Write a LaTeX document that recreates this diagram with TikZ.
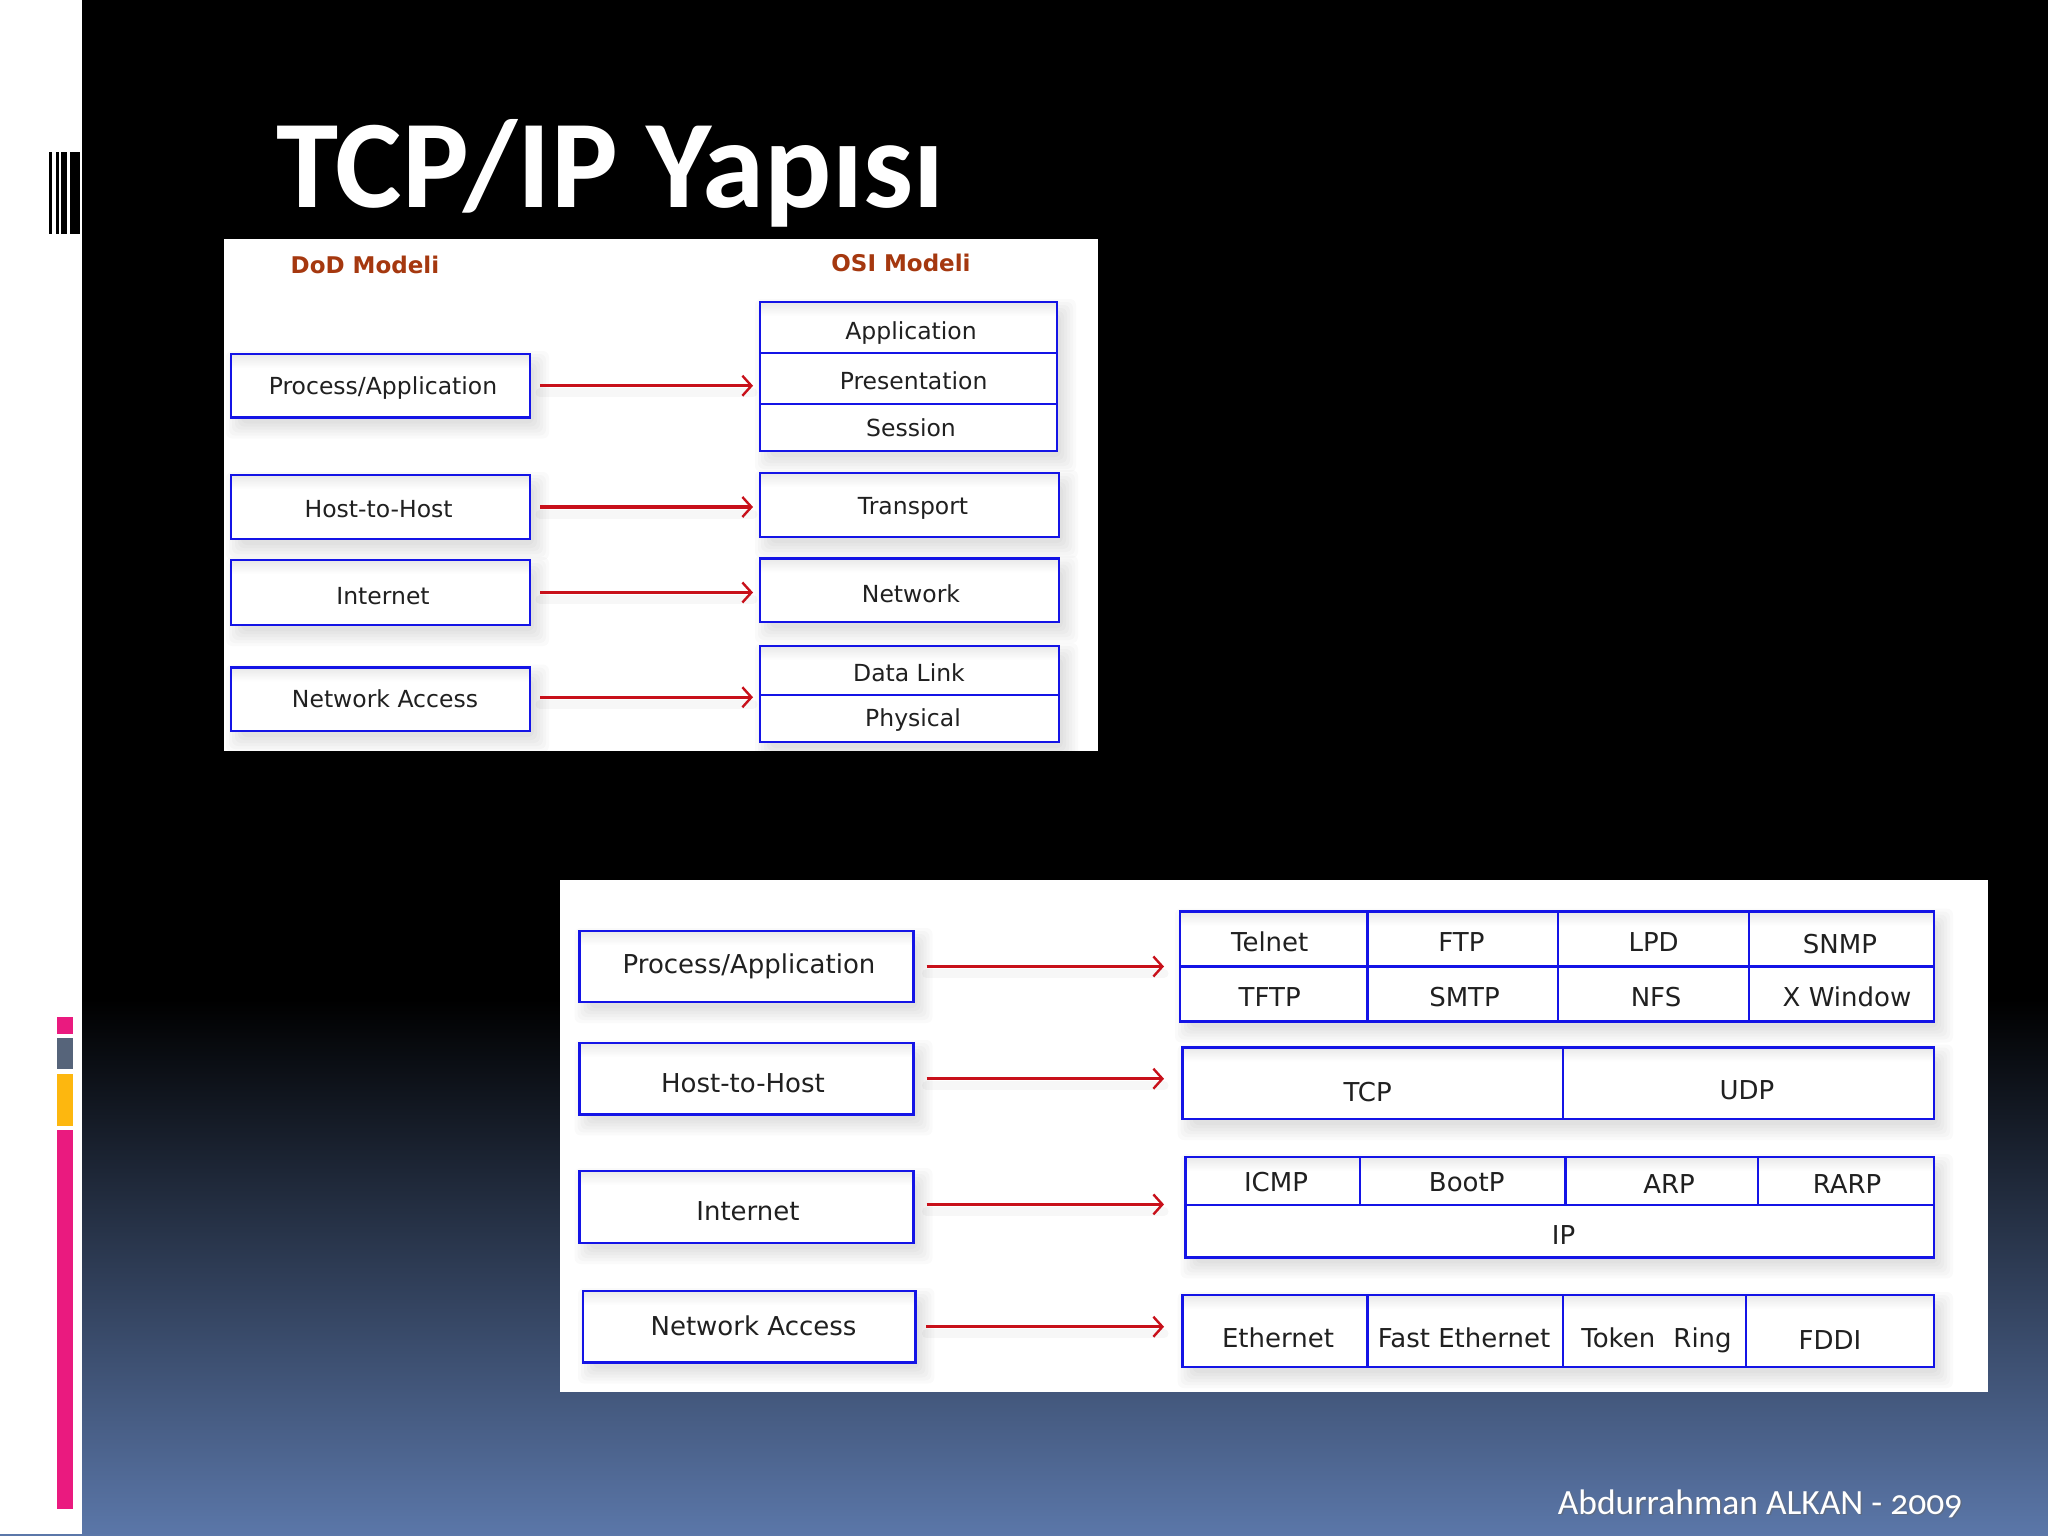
\documentclass[tikz,border=0pt]{standalone}
\usepackage{fontspec}
\usetikzlibrary{arrows.meta}
\setmainfont{DejaVu Sans}
\newfontfamily\titlefont{Carlito}
\newfontfamily\footfont[Numbers=OldStyle]{Carlito}
\definecolor{boxblue}{HTML}{1414E6}
\definecolor{arrred}{HTML}{C8101A}
\definecolor{headred}{HTML}{A5380F}
\definecolor{slidetop}{HTML}{000000}
\definecolor{slidebot}{HTML}{5B77A9}
\definecolor{labelgrey}{HTML}{202020}
\definecolor{accpink}{HTML}{EA1A7F}
\definecolor{accgrey}{HTML}{56647A}
\definecolor{accgold}{HTML}{FDB70F}
\tikzset{
  cellbox/.style={draw=boxblue,line width=2.6pt,fill=none,inner sep=0pt,outer sep=0pt,rectangle},
  lblA/.style={font=\fontsize{23.5}{26}\selectfont,text=labelgrey,inner sep=0pt},
  lblB/.style={font=\fontsize{26}{30}\selectfont,text=labelgrey,inner sep=0pt},
  headlbl/.style={font=\fontsize{23}{26}\bfseries\selectfont,text=headred,inner sep=0pt},
  redarrow/.style={draw=arrred,line width=3.2pt,-{Straight Barb[length=9pt,width=20pt,line width=2.4pt]}},
  arrowshadow/.style={draw=black,opacity=.03,line cap=round},
  panel/.style={fill=white,draw=none,inner sep=0pt,outer sep=0pt},
  accent/.style={draw=none}
}
% soft shadow and top tint of a group of cells
\newcommand{\softshadow}[4]{%
  \foreach \d in {12,9,6,3,0,-3}{
    \fill[black,opacity=.02,rounded corners=6pt] ({#1+7-\d},{#2+9-\d}) rectangle ({#3+7+\d},{#4+9+\d});
  }
  \fill[white] (#1,#2) rectangle (#3,#4);
  \shade[top color=black!9,bottom color=white] (#1,#2) rectangle (#3,{#2+14});
}
\newcommand{\cellnode}[5]{%
  \node[cellbox,minimum width={(#4)-(#2)},minimum height={(#5)-(#3)}] (#1) at ({((#2)+(#4))/2},{((#3)+(#5))/2}) {};
}
\newcommand{\linkarrow}[5]{% from, to, start gap, end gap, raise
  \draw[arrowshadow,line width=9pt,shorten <=#3pt,shorten >=#4pt] ([yshift=#5pt-7pt]#1.east) -- ([yshift=#5pt-7pt]#1.east -| #2.west);
  \draw[redarrow,shorten <=#3pt,shorten >=#4pt] ([yshift=#5pt]#1.east) -- ([yshift=#5pt]#1.east -| #2.west);
}
\begin{document}
\begin{tikzpicture}[x=1pt,y=-1pt]
\useasboundingbox (0,0) rectangle (2048,1536);
% slide background
\fill[white] (0,0) rectangle (2048,1536);
\fill[slidetop] (82,0) rectangle (2048,1000);
\shade[top color=slidetop,bottom color=slidebot,draw=none] (82,999) rectangle (2048,1536);
\fill[slidebot] (0,1534) rectangle (82,1536);
% barcode mark
\fill[black] (49,152) rectangle (52,234);
\fill[black] (56,152) rectangle (58.5,234);
\fill[black] (60.5,152) rectangle (67,234);
\fill[black] (69.5,152) rectangle (80,234);
% accent bars
\fill[accent,accpink] (56.7,1017) rectangle (73.3,1033.5);
\fill[accent,accgrey] (56.7,1038.3) rectangle (73.3,1069.4);
\fill[accent,accgold] (56.7,1073.8) rectangle (73.3,1125.5);
\fill[accent,accpink] (56.7,1129.6) rectangle (73.3,1509);
% title and footer
\node[anchor=base west,inner sep=0pt,text=white,font=\fontsize{125.5}{130}\bfseries\titlefont] (title) at (276,207) {TCP/IP Yapısı};
\node[anchor=base east,inner sep=0pt,text=black!60,opacity=.5,font=\fontsize{35.5}{40}\footfont] (footS) at (1964,1515.5) {Abdurrahman ALKAN - 2009};
\node[anchor=base east,inner sep=0pt,text=white,font=\fontsize{35.5}{40}\footfont] (foot) at (1962.5,1514) {Abdurrahman ALKAN - 2009};

% ---------- upper panel ----------
\fill[panel] (224,239) rectangle (1098,751);
\node[headlbl] (hDoD) at (365,264.5) {DoD Modeli};
\node[headlbl] (hOSI) at (901,263) {OSI Modeli};
\softshadow{231}{354}{530}{417.5}
\softshadow{231}{475}{530}{539}
\softshadow{231}{560}{530}{625}
\softshadow{231}{667.5}{530}{731}
\softshadow{760}{302}{1057}{451}
\softshadow{760}{473}{1059}{537}
\softshadow{760}{558.5}{1059}{622}
\softshadow{760}{646}{1059}{742}
\cellnode{ua}{231}{354}{530}{417.5}
\cellnode{ub}{231}{475}{530}{539}
\cellnode{uc}{231}{560}{530}{625}
\cellnode{ud}{231}{667.5}{530}{731}
\cellnode{oa}{760}{302}{1057}{353}
\cellnode{ob}{760}{353}{1057}{404}
\cellnode{oc}{760}{404}{1057}{451}
\cellnode{od}{760}{473}{1059}{537}
\cellnode{oe}{760}{558.5}{1059}{622}
\cellnode{of}{760}{646}{1059}{695}
\cellnode{og}{760}{695}{1059}{742}
\node[lblA] (tua) at (383,388) {Process/Application};
\node[lblA] (tub) at (378.6,508.6) {Host-to-Host};
\node[lblA] (tuc) at (383,596) {Internet};
\node[lblA] (tud) at (385,699) {Network Access};
\node[lblA] (toa) at (911,333) {Application};
\node[lblA] (tob) at (913.6,381) {Presentation};
\node[lblA] (toc) at (911,428) {Session};
\node[lblA] (tod) at (913,508.6) {Transport};
\node[lblA] (toe) at (911,594) {Network};
\node[lblA] (tof) at (909,673) {Data Link};
\node[lblA] (tog) at (913,720) {Physical};
\linkarrow{ua}{ob}{10}{7}{0}
\linkarrow{ub}{od}{10}{7}{0}
\linkarrow{uc}{oe}{10}{7}{0}
\linkarrow{ud}{of}{10}{7}{2}

% ---------- lower panel ----------
\fill[panel] (560,879.5) rectangle (1987.5,1391.6);
\softshadow{579.6}{931}{913.5}{1002}
\softshadow{579.6}{1043}{913.5}{1114.4}
\softshadow{579.6}{1171}{913.5}{1243}
\softshadow{583}{1291}{915.4}{1362.5}
\softshadow{1180}{911.6}{1934}{1021.5}
\softshadow{1182.7}{1047.5}{1934}{1119}
\softshadow{1185.5}{1157}{1934}{1257.4}
\softshadow{1182.7}{1295}{1934}{1367}
\cellnode{la}{579.6}{931}{913.5}{1002}
\cellnode{lb}{579.6}{1043}{913.5}{1114.4}
\cellnode{lc}{579.6}{1171}{913.5}{1243}
\cellnode{ld}{583}{1291}{915.4}{1362.5}
\cellnode{r1a}{1180}{911.6}{1367.7}{966.7}
\cellnode{r1b}{1367.7}{911.6}{1558}{966.7}
\cellnode{r1c}{1558}{911.6}{1749}{966.7}
\cellnode{r1d}{1749}{911.6}{1934}{966.7}
\cellnode{r2a}{1180}{966.7}{1367.7}{1021.5}
\cellnode{r2b}{1367.7}{966.7}{1558}{1021.5}
\cellnode{r2c}{1558}{966.7}{1749}{1021.5}
\cellnode{r2d}{1749}{966.7}{1934}{1021.5}
\cellnode{r3a}{1182.7}{1047.5}{1563}{1119}
\cellnode{r3b}{1563}{1047.5}{1934}{1119}
\cellnode{r4a}{1185.5}{1157}{1360}{1205}
\cellnode{r4b}{1360}{1157}{1565.7}{1205}
\cellnode{r4c}{1565.7}{1157}{1758}{1205}
\cellnode{r4d}{1758}{1157}{1934}{1205}
\cellnode{r5}{1185.5}{1205}{1934}{1257.4}
\cellnode{r6a}{1182.7}{1295}{1367.7}{1367}
\cellnode{r6b}{1367.7}{1295}{1563}{1367}
\cellnode{r6c}{1563}{1295}{1746}{1367}
\cellnode{r6d}{1746}{1295}{1934}{1367}
\node[lblB] (tla) at (749,966.2) {Process/Application};
\node[lblB] (tlb) at (743,1083) {Host-to-Host};
\node[lblB] (tlc) at (748,1211.5) {Internet};
\node[lblB] (tld) at (753.5,1325.7) {Network Access};
\node[lblB] (t1a) at (1269.7,941.7) {Telnet};
\node[lblB] (t1b) at (1461.5,941.7) {FTP};
\node[lblB] (t1c) at (1653.6,941.7) {LPD};
\node[lblB] (t1d) at (1840,943.7) {SNMP};
\node[lblB] (t2a) at (1269.7,996.8) {TFTP};
\node[lblB] (t2b) at (1464.5,996.8) {SMTP};
\node[lblB] (t2c) at (1656,996.8) {NFS};
\node[lblB] (t2d) at (1847,996.8) {X Window};
\node[lblB] (t3a) at (1367.7,1092) {TCP};
\node[lblB] (t3b) at (1747,1089.7) {UDP};
\node[lblB] (t4a) at (1276,1182.5) {ICMP};
\node[lblB] (t4b) at (1466.7,1182.5) {BootP};
\node[lblB] (t4c) at (1669,1184.4) {ARP};
\node[lblB] (t4d) at (1847,1184.4) {RARP};
\node[lblB] (t5) at (1563.5,1235) {IP};
\node[lblB] (t6a) at (1278,1338) {Ethernet};
\node[lblB] (t6b) at (1464,1338) {Fast Ethernet};
\node[lblB] (t6c) at (1656.5,1340) {Token\hspace{.38em} Ring};
\node[lblB] (t6d) at (1830,1340) {FDDI};
\linkarrow{la}{r1a}{13}{16}{0}
\linkarrow{lb}{r3a}{13}{18.7}{0}
\linkarrow{lc}{r4a}{13}{21.5}{2.6}
\linkarrow{ld}{r6a}{11}{18.7}{0}
\end{tikzpicture}
\end{document}
